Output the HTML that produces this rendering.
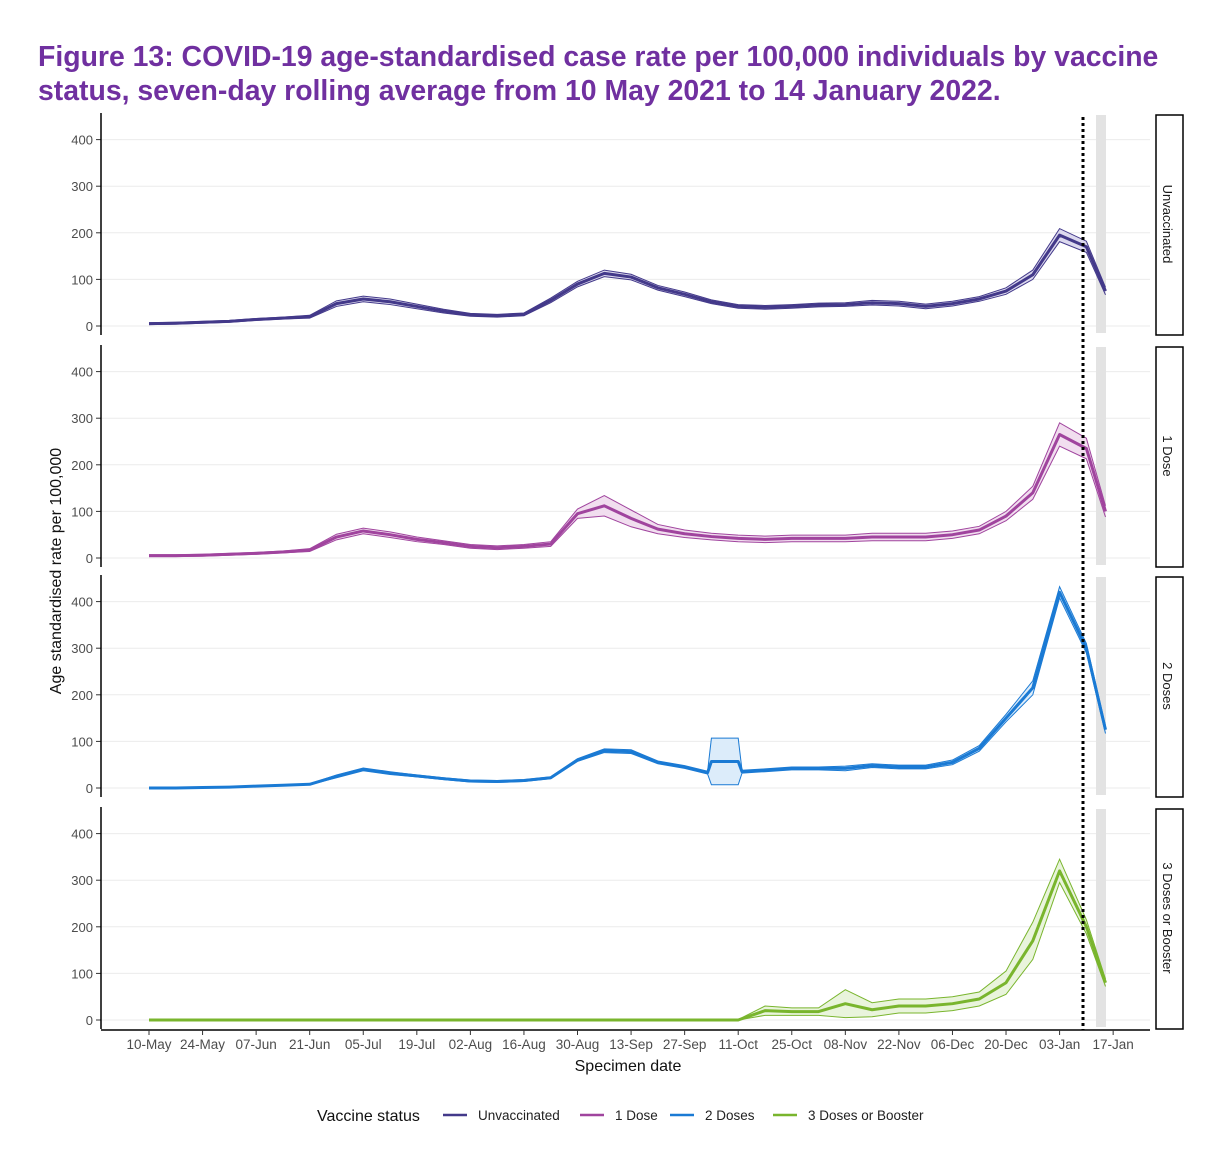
<!DOCTYPE html>
<html><head><meta charset="utf-8"><style>
body{margin:0;background:#fff;font-family:"Liberation Sans",Arial,sans-serif}
</style></head><body>
<svg id="c" width="1220" height="1146" xmlns="http://www.w3.org/2000/svg" style="font-family:'Liberation Sans',Arial,sans-serif">
<text x="38" y="66" font-size="28.4" font-weight="bold" fill="#7030a0">Figure 13: COVID-19 age-standardised case rate per 100,000 individuals by vaccine</text>
<text x="38" y="100" font-size="28.4" font-weight="bold" fill="#7030a0">status, seven-day rolling average from 10 May 2021 to 14 January 2022.</text>
<text transform="translate(61,571) rotate(-90)" text-anchor="middle" font-size="16" fill="#111">Age standardised rate per 100,000</text>
<text x="628" y="1071" text-anchor="middle" font-size="16" fill="#111">Specimen date</text>
<g id="plots"></g>
<g id="legend"></g>
</svg>
<script>
const days=[0,7,14,21,28,35,42,49,56,63,70,77,84,91,98,105,112,119,126,133,140,147,154,161,168,175,182,189,196,203,210,217,224,231,238,245,250];
const unvacc=[5,6,8,10,14,17,20,48,58,52,42,32,24,22,25,55,90,113,105,82,68,52,42,40,42,45,46,50,48,42,48,58,75,110,195,170,75];
const unvaccHw=[2,2,2,2,2,2,3,6,6,6,5,4,3,3,3,5,6,7,6,5,5,4,4,4,4,4,4,5,5,5,5,5,7,10,14,12,8];
const dose1=[5,5,6,8,10,13,17,45,58,50,40,33,25,22,25,30,95,112,85,62,52,46,42,40,42,42,42,45,45,45,50,60,90,140,265,235,100];
const dose1Hw=[2,2,2,2,2,2,3,6,6,6,5,4,4,4,4,5,10,22,18,10,8,7,7,7,7,7,7,8,8,8,8,8,10,14,25,22,12];
const dose2Days=[0,7,14,21,28,35,42,49,56,63,70,77,84,91,98,105,112,119,126,133,140,146,147,154,155,161,168,175,182,189,196,203,210,217,224,231,238,245,250];
const dose2=[0,0,1,2,4,6,8,25,40,32,26,20,15,14,16,22,60,80,78,55,45,33,57,57,35,38,42,42,42,48,45,45,55,85,150,215,420,300,125];
const dose2Hw=[1,1,1,1,1,1,1,3,3,3,2,2,2,2,2,2,3,4,4,3,3,3,50,50,3,3,3,3,5,4,4,4,5,6,8,15,12,10,8];
const dose3=[0,0,0,0,0,0,0,0,0,0,0,0,0,0,0,0,0,0,0,0,0,0,0,20,18,18,35,22,30,30,35,45,80,170,320,200,80];
const dose3Hw=[0,0,0,0,0,0,0,0,0,0,0,0,0,0,0,0,0,0,0,0,0,0,1,10,8,8,30,15,15,15,15,15,25,40,25,15,8];
const yTicks=[0,100,200,300,400];
const xTickLabels=["10-May","24-May","07-Jun","21-Jun","05-Jul","19-Jul","02-Aug","16-Aug","30-Aug","13-Sep","27-Sep","11-Oct","25-Oct","08-Nov","22-Nov","06-Dec","20-Dec","03-Jan","17-Jan"];
const seriesNames=["Unvaccinated","1 Dose","2 Doses","3 Doses or Booster"];
const colors=["#43398a","#a0449e","#1a7ad4","#79b52d"];
const fills=["#dcd9ee","#f1deef","#dcecfa","#e9f4dc"];
const series=[[days,unvacc,unvaccHw],[days,dose1,dose1Hw],[dose2Days,dose2,dose2Hw],[days,dose3,dose3Hw]];
const NS="http://www.w3.org/2000/svg";
const X=d=>149+d*3.826;
const panels=[[113,335],[345,567],[575,797],[807,1029]];
const g=document.getElementById('plots');
function mk(t,a,p){const e=document.createElementNS(NS,t);for(const k in a)e.setAttribute(k,a[k]);(p||g).appendChild(e);return e;}
panels.forEach((pn,i)=>{
  const base=pn[1]-9, Y=v=>base-v*0.466;
  const pg=mk('g',{});
  
  
  yTicks.forEach(t=>{
    const l=mk('line',{x1:101,x2:1150,y1:Y(t),y2:Y(t),stroke:'#ebebeb','stroke-width':1},pg);
    
    
    mk('line',{x1:96,x2:101,y1:Y(t),y2:Y(t),stroke:'#333'},pg);
    const tx=mk('text',{x:93,y:Y(t)+5,'text-anchor':'end','font-size':13,fill:'#4d4d4d'},pg);
    tx.textContent=t;
    
    
  });
  const ax=mk('line',{x1:101,x2:101,y1:pn[0],y2:pn[1],stroke:'#000','stroke-width':1.5},pg);
  
  
  const gb=mk('rect',{x:1096,y:pn[0]+2,width:10,height:pn[1]-pn[0]-4,fill:'#e3e3e3'},pg);
  
  
  const [dd,v,h]=series[i];
  const up=dd.map((d,k)=>X(d)+','+Y(v[k]+h[k]));
  const lo=dd.map((d,k)=>X(d)+','+Y(Math.max(0,v[k]-h[k])));
  const poly=mk('polygon',{points:up.concat(lo.slice().reverse()).join(' '),fill:fills[i],stroke:'none'},pg);
  
  
  [up,lo].forEach(pts=>{const pl=mk('polyline',{points:pts.join(' '),fill:'none',stroke:colors[i],'stroke-width':1},pg);
    
    });
  const ln=mk('polyline',{points:dd.map((d,k)=>X(d)+','+Y(v[k])).join(' '),fill:'none',stroke:colors[i],'stroke-width':3,'stroke-linejoin':'round'},pg);
  
  
  const sb=mk('rect',{x:1156,y:pn[0]+2,width:27,height:pn[1]-pn[0]-2,fill:'#fff',stroke:'#000','stroke-width':1.5},pg);
  
  
  const st=mk('text',{transform:`translate(1163,${(pn[0]+pn[1])/2}) rotate(90)`,'text-anchor':'middle','font-size':13,fill:'#1a1a1a'},pg);
  st.textContent=seriesNames[i];
  
  
});
const bx=mk('line',{x1:101,x2:1150,y1:1030,y2:1030,stroke:'#000','stroke-width':1.5});


xTickLabels.forEach((t,k)=>{
  mk('line',{x1:X(k*14),x2:X(k*14),y1:1030,y2:1035,stroke:'#333'});
  const tx=mk('text',{x:X(k*14),y:1049,'text-anchor':'middle','font-size':13.5,fill:'#4d4d4d'});
  tx.textContent=t;
  
  
});
const dl=mk('line',{x1:1083,x2:1083,y1:117,y2:1030,stroke:'#000','stroke-width':3,'stroke-dasharray':'3,3'});


const lg=document.getElementById('legend');
const lt=mk('text',{x:317,y:1121,'font-size':16,fill:'#111'},lg);
lt.textContent='Vaccine status';


const lx=[443,580,670,773];
seriesNames.forEach((n,i)=>{
  const eg=mk('g',{},lg);
  
  
  mk('line',{x1:lx[i],x2:lx[i]+24,y1:1115,y2:1115,stroke:colors[i],'stroke-width':2.5},eg);
  const t=mk('text',{x:lx[i]+35,y:1120,'font-size':13.5,fill:'#222'},eg);
  t.textContent=n;
});
</script>
</body></html>
